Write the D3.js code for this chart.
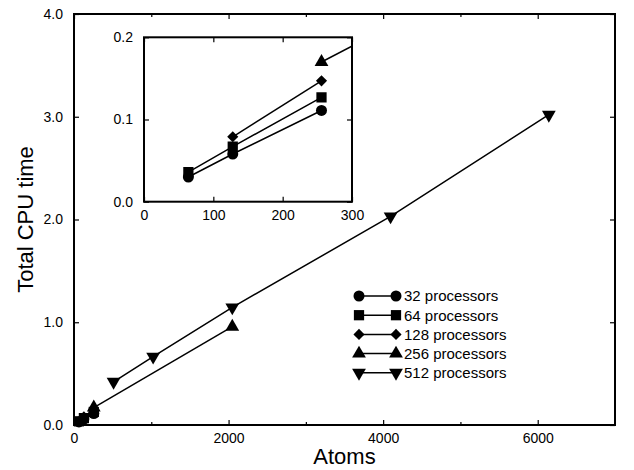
<!DOCTYPE html>
<html>
<head>
<meta charset="utf-8">
<script src="https://cdn.jsdelivr.net/npm/d3@7"></script>
<style>
  body { margin: 0; background: #fff; }
  svg text { font-family: "Liberation Sans", Arial, Helvetica, sans-serif; fill: #000; }
  .axis path.domain { display: none; }
  .axis line { stroke: #000; stroke-width: 1.2; }
</style>
</head>
<body>
<div id="chart"></div>
<script>
// series: atoms vs total CPU time
const atoms32 = [64, 128, 256];
const time32 = [0.030, 0.058, 0.111];
const atoms64 = [64, 128, 256];
const time64 = [0.036, 0.067, 0.127];
const atoms128 = [128, 256];
const time128 = [0.079, 0.147];
const atoms256 = [256, 2048];
const time256 = [0.170, 0.957];
const atoms512 = [512, 1024, 2048, 4096, 6144];
const time512 = [0.42, 0.665, 1.145, 2.03, 3.02];

const seriesNames = ['32 processors', '64 processors', '128 processors', '256 processors', '512 processors'];

const mainXTicks = [0, 2000, 4000, 6000];
const mainXMinor = [1000, 3000, 5000];
const mainYTicks = [0, 1, 2, 3, 4];
const insetXTicks = [0, 100, 200, 300];
const insetYTicks = [0, 0.1, 0.2];

const series = [
    {name: seriesNames[0], atoms: atoms32, time: time32, shape: 'circle'},
    {name: seriesNames[1], atoms: atoms64, time: time64, shape: 'square'},
    {name: seriesNames[2], atoms: atoms128, time: time128, shape: 'diamond'},
    {name: seriesNames[3], atoms: atoms256, time: time256, shape: 'up'},
    {name: seriesNames[4], atoms: atoms512, time: time512, shape: 'down'}
];

const W = 634, H = 470;
const svg = d3.select('#chart').append('svg')
              .attr('width', W)
              .attr('height', H);
svg.append('rect').attr('width', W).attr('height', H).attr('fill', '#fff');

// marker paths
const symbols = {
    circle: d3.symbol(d3.symbolCircle, 95)(),
    square: d3.symbol(d3.symbolSquare, 105)(),
    diamond: d3.symbol(d3.symbolSquare, 62)(),
    up: d3.symbol(d3.symbolTriangle, 82)(),
    down: d3.symbol(d3.symbolTriangle, 82)()
};
const symbolRotate = {circle: 0, square: 0, diamond: 45, up: 0, down: 180};

function drawMarker(g, shape, cx, cy) {
    g.append('path')
     .attr('d', symbols[shape])
     .attr('transform', `translate(${cx},${cy}) rotate(${symbolRotate[shape]})`)
     .attr('fill', '#000');
}

function drawSeries(g, x, y) {
    series.forEach(s => {
        const pts = s.atoms.map((a, i) => [a, s.time[i]]);
        g.append('path')
         .attr('d', d3.line().x(d => x(d[0])).y(d => y(d[1]))(pts))
         .attr('fill', 'none')
         .attr('stroke', '#000')
         .attr('stroke-width', 1.5);
        pts.forEach(p => drawMarker(g, s.shape, x(p[0]), y(p[1])));
    });
}

// ---------- main plot ----------
const x = d3.scaleLinear().domain([0, 7000]).range([74, 615]);
const y = d3.scaleLinear().domain([0, 4]).range([425, 14]);

svg.append('g').attr('class', 'axis')
   .attr('transform', `translate(0,${y(0)})`)
   .call(d3.axisBottom(x).tickValues(mainXTicks).tickSize(-5).tickPadding(8).tickFormat(d3.format('d')))
   .selectAll('text').style('font-size', '14px');
svg.append('g').attr('class', 'axis')
   .attr('transform', `translate(0,${y(0)})`)
   .call(d3.axisBottom(x).tickValues(mainXMinor).tickSize(-3).tickFormat(''));
svg.append('g').attr('class', 'axis')
   .attr('transform', `translate(0,${y(4)})`)
   .call(d3.axisTop(x).tickValues(mainXTicks).tickSize(-5).tickFormat(''));
svg.append('g').attr('class', 'axis')
   .attr('transform', `translate(0,${y(4)})`)
   .call(d3.axisTop(x).tickValues(mainXMinor).tickSize(-3).tickFormat(''));
svg.append('g').attr('class', 'axis')
   .attr('transform', `translate(${x(0)},0)`)
   .call(d3.axisLeft(y).tickValues(mainYTicks).tickSize(-5).tickPadding(11).tickFormat(d3.format('.1f')))
   .selectAll('text').style('font-size', '14px');
svg.append('g').attr('class', 'axis')
   .attr('transform', `translate(${x(7000)},0)`)
   .call(d3.axisRight(y).tickValues(mainYTicks).tickSize(-5).tickFormat(''));

svg.append('rect')
   .attr('x', x(0)).attr('y', y(4))
   .attr('width', x(7000) - x(0)).attr('height', y(0) - y(4))
   .attr('fill', 'none').attr('stroke', '#000').attr('stroke-width', 2);

drawSeries(svg.append('g'), x, y);

svg.append('text')
   .attr('x', (x(0) + x(7000)) / 2)
   .attr('y', 464)
   .attr('text-anchor', 'middle')
   .style('font-size', '22px')
   .text('Atoms');

svg.append('text')
   .attr('transform', `translate(33,${(y(0) + y(4)) / 2}) rotate(-90)`)
   .attr('text-anchor', 'middle')
   .style('font-size', '22px')
   .text('Total CPU time');

// ---------- legend ----------
const legend = svg.append('g');
series.forEach((s, i) => {
    const ly = 296 + i * 19.2;
    legend.append('line')
          .attr('x1', 359).attr('x2', 396)
          .attr('y1', ly).attr('y2', ly)
          .attr('stroke', '#000').attr('stroke-width', 1.5);
    drawMarker(legend, s.shape, 359, ly);
    drawMarker(legend, s.shape, 396, ly);
    legend.append('text')
          .attr('x', 404).attr('y', ly)
          .attr('dy', '0.36em')
          .style('font-size', '15px')
          .text(s.name);
});

// ---------- inset ----------
const xi = d3.scaleLinear().domain([0, 300]).range([144, 352]);
const yi = d3.scaleLinear().domain([0, 0.2]).range([201.7, 37.3]);

const inset = svg.append('g');
inset.append('rect')
     .attr('x', xi(0)).attr('y', yi(0.2))
     .attr('width', xi(300) - xi(0)).attr('height', yi(0) - yi(0.2))
     .attr('fill', '#fff');

svg.append('clipPath').attr('id', 'insetClip')
   .append('rect')
   .attr('x', xi(0)).attr('y', yi(0.2))
   .attr('width', xi(300) - xi(0)).attr('height', yi(0) - yi(0.2));

drawSeries(inset.append('g').attr('clip-path', 'url(#insetClip)'), xi, yi);

inset.append('g').attr('class', 'axis')
     .attr('transform', `translate(0,${yi(0)})`)
     .call(d3.axisBottom(xi).tickValues(insetXTicks).tickSize(-5).tickPadding(8))
     .selectAll('text').style('font-size', '14px');
inset.append('g').attr('class', 'axis')
     .attr('transform', `translate(0,${yi(0.2)})`)
     .call(d3.axisTop(xi).tickValues(insetXTicks).tickSize(-5).tickFormat(''));
inset.append('g').attr('class', 'axis')
     .attr('transform', `translate(${xi(0)},0)`)
     .call(d3.axisLeft(yi).tickValues(insetYTicks).tickSize(-5).tickPadding(11).tickFormat(d3.format('.1f')))
     .selectAll('text').style('font-size', '14px');
inset.append('g').attr('class', 'axis')
     .attr('transform', `translate(${xi(300)},0)`)
     .call(d3.axisRight(yi).tickValues(insetYTicks).tickSize(-5).tickFormat(''));

inset.append('rect')
     .attr('x', xi(0)).attr('y', yi(0.2))
     .attr('width', xi(300) - xi(0)).attr('height', yi(0) - yi(0.2))
     .attr('fill', 'none').attr('stroke', '#000').attr('stroke-width', 2);
</script>
</body>
</html>
